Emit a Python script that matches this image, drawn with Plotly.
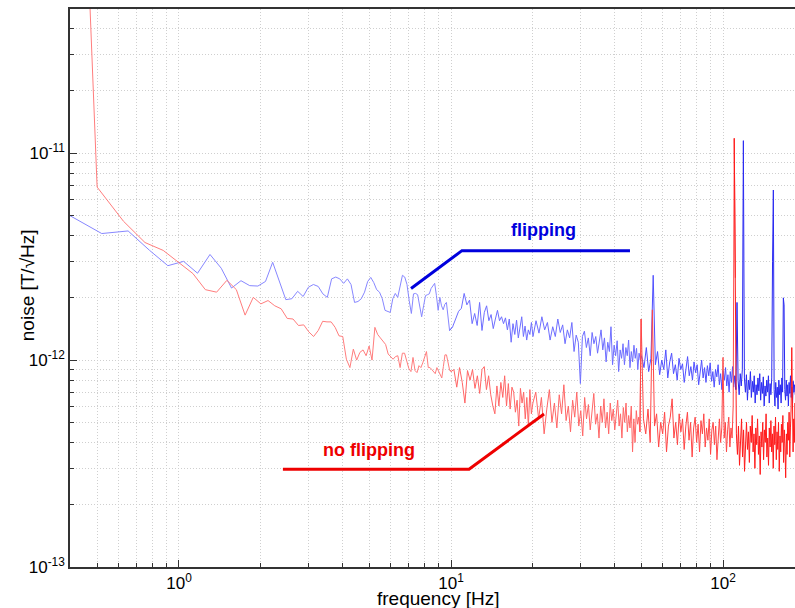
import numpy as np
import plotly.graph_objects as go

# ---------------- data (amplitude spectral density, units of 1e-12 T/sqrt(Hz)) ----------------
UNIT = 1e-12
RED_DF = 0.125   # frequency resolution of the "no flipping" spectrum [Hz]
BLUE_DF = 0.13   # frequency resolution of the "flipping" spectrum [Hz]

# "flipping" (blue) spectrum, split in segments: (first bin, bin step, values)
blue_low = [5.06, 4.09, 4.21, 3.39, 2.86, 3.00, 2.63, 3.24, 2.78, 2.23, 2.42, 2.29, 2.28, 2.40, 2.97,
            2.41, 1.96, 1.98, 2.15, 2.03, 2.25, 2.32, 2.27, 2.09, 2.01, 2.47, 2.52, 2.47, 2.35, 2.47,
            2.32, 1.90, 1.92, 1.98, 2.13, 2.40, 2.51, 2.37, 2.19, 2.13, 1.98, 1.74, 1.72, 1.70, 1.98,
            2.10, 2.01, 2.30, 2.57, 2.52, 2.32, 1.94, 1.68, 2.09, 2.10, 2.07, 1.81, 1.62, 1.83, 2.05,
            2.07, 2.09, 2.22, 2.30, 2.35, 2.05, 1.74, 2.01, 1.83, 1.75, 1.86, 1.90, 1.55, 1.39]
blue_b = [1.45, 1.58, 1.72, 1.78, 2.10, 1.85, 1.95, 1.50, 1.68, 1.47, 1.90, 1.39, 1.70, 1.83, 1.55,
          1.66, 1.42, 1.58, 1.74, 1.55, 1.62, 1.50, 1.60, 1.40, 1.58, 1.22, 1.50, 1.33, 1.56, 1.28,
          1.48, 1.62, 1.30, 1.46, 1.25, 1.40, 1.33, 1.52, 1.30]
blue_c = [1.55, 1.35, 1.62, 1.40, 1.52, 1.25, 1.45, 1.30, 1.58, 1.36, 1.48, 1.20, 1.40, 1.28, 1.52,
          1.10, 1.32, 1.22, 0.77, 1.30, 1.38, 1.15, 1.28, 1.05, 1.36, 1.20, 1.30, 1.08, 1.25, 1.40,
          1.12, 1.28, 0.98, 1.22, 1.10, 1.45, 0.95, 1.18, 1.05, 1.24, 0.88, 1.12, 1.02, 1.20, 0.95,
          1.15, 1.05, 1.25, 0.92, 1.10, 0.98, 1.18, 1.02, 1.14, 0.90, 1.08, 1.00]
blue_d = [1.05, 0.92, 1.15, 0.88, 1.02, 2.57, 0.95, 1.10, 0.85, 1.00, 0.90, 1.12, 0.82, 0.98, 1.08,
          0.86, 0.95, 0.80, 1.02, 0.90, 0.96, 0.78, 0.92, 1.04, 0.84, 0.93, 0.80, 0.98, 0.87, 0.95,
          0.76, 0.90, 1.00, 0.82, 0.92, 0.78, 0.94, 0.84, 0.97, 0.79, 0.88, 0.74, 0.90, 0.83, 0.95,
          0.76, 0.86, 0.72, 0.89, 0.80, 0.92, 0.75, 0.85, 0.70, 0.88, 0.78, 0.93, 0.74, 0.84, 0.72,
          1.90, 0.80, 0.68, 0.86, 0.75, 0.90, 11.5, 0.82, 0.70, 0.85, 0.64, 0.80, 0.72, 0.88, 0.66,
          0.79, 0.70, 0.84, 0.62, 0.76, 0.68, 0.82, 0.71, 0.86, 0.64, 0.78, 0.69, 0.83, 0.60, 0.75,
          0.67, 0.80, 0.70, 0.84, 0.62, 0.77, 0.68, 0.82, 3.00, 6.64, 0.72, 0.60, 0.78, 0.66, 0.74,
          0.58, 0.80, 0.68, 0.76, 0.62, 0.82, 0.70, 2.00, 1.85, 0.72, 0.64, 0.80, 0.67, 0.76, 0.60,
          0.78, 0.69, 0.84, 0.66, 0.74, 0.62, 0.79, 0.70, 0.76, 0.68]
BLUE_SEGMENTS = [(3, 1, blue_low), (78, 2, blue_b), (158, 4, blue_c), (386, 8, blue_d)]

# "no flipping" (red) spectrum
red_low = [100000, 6.86, 4.69, 3.70, 3.39, 2.97, 2.62, 2.19, 2.13, 2.43, 2.19, 1.65, 2.01, 1.87, 1.94,
           1.83, 1.77, 1.59, 1.58, 1.47, 1.48, 1.37, 1.30, 1.39, 1.54, 1.53, 1.53, 1.44, 1.31, 1.30,
           1.01, 0.92, 1.13, 1.00, 1.09, 1.12, 1.05, 1.17, 1.00, 1.44, 1.33, 1.28, 1.23, 1.19, 1.07,
           1.04, 1.01, 1.04, 1.05, 0.92, 1.08, 1.08, 0.99, 0.91, 0.88, 1.03, 0.89, 0.87, 0.94, 0.92,
           0.97, 1.05, 1.10, 0.92, 0.92, 0.90, 0.88, 0.86, 0.92, 0.89, 0.85, 0.82, 0.93, 1.06, 1.06,
           0.97, 0.90, 0.88]
red_b = [0.90, 0.74, 0.92, 0.78, 0.62, 0.89, 0.80, 0.90, 0.73, 0.84, 0.69, 0.90, 0.93, 0.72, 0.84,
         0.68, 0.60, 0.55, 0.75, 0.60, 0.78, 0.66, 0.84, 0.60, 0.77, 0.58, 0.74, 0.70, 0.56, 0.64,
         0.48, 0.73, 0.62, 0.70, 0.52, 0.66, 0.48, 0.72, 0.55, 0.62]
red_c = [0.70, 0.52, 0.66, 0.44, 0.58, 0.72, 0.50, 0.62, 0.47, 0.68, 0.55, 0.76, 0.51, 0.60, 0.45,
         0.64, 0.53, 0.70, 0.48, 0.57, 0.43, 0.66, 0.52, 0.61, 0.46, 0.58, 0.69, 0.49, 0.55, 0.42,
         0.60, 0.50, 0.65, 0.47, 0.56, 0.44, 0.62, 0.51, 0.58, 0.46, 0.53, 0.64, 0.48, 0.55, 0.42,
         0.59, 0.50, 0.62, 0.45, 0.54, 0.47, 0.60, 0.36, 0.52, 0.40, 0.57, 0.49, 0.53, 0.45, 1.58]
red_d = [0.52, 0.44, 0.58, 0.40, 1.75, 0.48, 0.55, 0.38, 0.50, 0.44, 0.56, 0.36, 0.48, 0.53, 0.65,
         0.42, 0.50, 0.39, 0.55, 0.45, 0.52, 0.37, 0.48, 0.56, 0.41, 0.50, 0.34, 0.47, 0.53, 0.40,
         0.49, 0.36, 0.51, 0.44, 0.55, 0.38, 0.47, 0.41, 0.52, 0.35, 0.46, 0.50, 0.39, 0.48, 0.33,
         0.45, 0.52, 0.40, 0.47, 1.03, 0.42, 0.50, 0.36, 0.46, 0.53, 0.38, 0.47, 0.42, 0.60, 11.8,
         2.50, 0.44, 0.35, 0.48, 0.31, 0.44, 0.52, 0.34, 0.46, 0.29, 0.42, 0.50, 0.37, 0.45, 0.32,
         0.48, 0.40, 0.54, 0.36, 0.44, 0.30, 0.47, 0.39, 0.52, 0.35, 0.43, 0.28, 0.45, 0.38, 0.50,
         0.33, 0.46, 0.40, 0.55, 0.34, 0.42, 0.31, 0.47, 0.38, 0.51, 0.36, 0.44, 0.30, 0.48, 0.39,
         0.53, 0.33, 0.45, 0.37, 0.50, 0.29, 0.43, 0.36, 0.49, 0.40, 0.54, 0.32, 0.46, 0.38, 0.27,
         0.44, 0.35, 0.50, 0.41, 0.56, 0.34, 0.47, 0.58, 1.15, 0.45, 0.36, 0.52, 0.40, 0.62, 0.48]
RED_SEGMENTS = [(3, 1, red_low), (82, 2, red_b), (164, 4, red_c), (408, 8, red_d)]

# axis ticks
X_MAJOR = [1, 10, 100]
X_MAJOR_TEXT = ["10<sup>0</sup>", "10<sup>1</sup>", "10<sup>2</sup>"]
Y_MAJOR = [1e-13, 1e-12, 1e-11]
Y_MAJOR_TEXT = ["10<sup>-13</sup>", "10<sup>-12</sup>", "10<sup>-11</sup>"]

# callout annotations (frequency [Hz], noise [T/sqrt(Hz)])
FLIP_LABEL = ("flipping", 21.8, 4.24e-12)
FLIP_LINE_F = [7.13, 10.97, 45.5]
FLIP_LINE_N = [2.22e-12, 3.38e-12, 3.38e-12]
NOFLIP_LABEL = ("no flipping", 5.0, 3.67e-13)
NOFLIP_LINE_F = [2.41, 11.65, 21.98]
NOFLIP_LINE_N = [2.97e-13, 2.97e-13, 5.49e-13]


def build(segments, df):
    f, v = [], []
    for start, step, vals in segments:
        bins = start + step * np.arange(len(vals))
        f.append(bins * df)
        v.append(np.asarray(vals, dtype=float) * UNIT)
    return np.concatenate(f), np.concatenate(v)


fb, vb = build(BLUE_SEGMENTS, BLUE_DF)
fr, vr = build(RED_SEGMENTS, RED_DF)

# denser line regions appear more saturated in the original; emulate with band colours
BLUE_BANDS = [(0, 10, "#8787ff"), (10, 50, "#6e6eff"), (50, 111, "#5050ff"), (111, 1e4, "#2a2af2")]
RED_BANDS = [(0, 10, "#ff7d7d"), (10, 50, "#ff6666"), (50, 111, "#ff4646"), (111, 1e4, "#ff1a1a")]

fig = go.Figure()


def add_banded(f, v, bands):
    for lo, hi, col in bands:
        idx = np.where((f >= lo) & (f < hi))[0]
        if len(idx) == 0:
            continue
        i0 = max(idx[0] - 1, 0)
        i1 = min(idx[-1] + 1, len(f) - 1)
        fig.add_trace(go.Scatter(x=f[i0:i1 + 1], y=v[i0:i1 + 1], mode="lines",
                                 line=dict(color=col, width=1), hoverinfo="skip",
                                 showlegend=False))


add_banded(fb, vb, BLUE_BANDS)
add_banded(fr, vr, RED_BANDS)

BLUE_TXT = "#0000dd"
RED_TXT = "#ee0000"
fig.add_trace(go.Scatter(x=FLIP_LINE_F, y=FLIP_LINE_N, mode="lines",
                         line=dict(color=BLUE_TXT, width=3), showlegend=False, hoverinfo="skip"))
fig.add_trace(go.Scatter(x=NOFLIP_LINE_F, y=NOFLIP_LINE_N, mode="lines",
                         line=dict(color=RED_TXT, width=3), showlegend=False, hoverinfo="skip"))

FONT = "Liberation Sans, Arial, Helvetica, sans-serif"

for (txt, fx, ny), col in [(FLIP_LABEL, BLUE_TXT), (NOFLIP_LABEL, RED_TXT)]:
    fig.add_annotation(x=np.log10(fx), y=np.log10(ny), xref="x", yref="y", text=f"<b>{txt}</b>",
                       showarrow=False, font=dict(family=FONT, size=18, color=col))

# axis titles
fig.add_annotation(x=0.5076, y=-0.056, xref="paper", yref="paper", text="frequency [Hz]",
                   showarrow=False, xanchor="center", yanchor="middle",
                   font=dict(family=FONT, size=19, color="black"))
fig.add_annotation(x=-0.0593, y=0.505, xref="paper", yref="paper", text="noise [T/√Hz]",
                   showarrow=False, textangle=-90, xanchor="center", yanchor="middle",
                   font=dict(family=FONT, size=19, color="black"))

x_minor = [m * 10 ** e for e in (-1, 0, 1, 2) for m in range(2, 10)]
y_minor = [m * 10 ** e for e in (-13, -12, -11) for m in range(2, 10)]

GRID = "#cfcfcf"
DASH = "1px,2px"
AX = "#333333"
fig.update_xaxes(type="log", range=[-0.4007, 2.2647], tickmode="array", tickvals=X_MAJOR,
                 ticktext=X_MAJOR_TEXT, ticks="inside", ticklen=7, tickcolor=AX,
                 showline=True, linecolor=AX, linewidth=1.5, mirror=True,
                 showgrid=True, gridcolor=GRID, griddash=DASH, gridwidth=1, zeroline=False,
                 tickfont=dict(family=FONT, size=17, color="black"),
                 minor=dict(tickmode="array", tickvals=x_minor, ticks="inside", ticklen=4,
                            tickcolor=AX, showgrid=True, gridcolor=GRID, griddash=DASH))
fig.update_yaxes(type="log", range=[-13, -10.303], tickmode="array", tickvals=Y_MAJOR,
                 ticktext=Y_MAJOR_TEXT, ticks="inside", ticklen=7, tickcolor=AX,
                 showline=True, linecolor=AX, linewidth=1.5, mirror=False,
                 showgrid=True, gridcolor=GRID, griddash=DASH, gridwidth=1, zeroline=False,
                 tickfont=dict(family=FONT, size=17, color="black"),
                 minor=dict(tickmode="array", tickvals=y_minor, ticks="inside", ticklen=4,
                            tickcolor=AX, showgrid=True, gridcolor=GRID, griddash=DASH))

fig.update_layout(width=795, height=608, margin=dict(l=70, r=0, t=9, b=41),
                  paper_bgcolor="white", plot_bgcolor="white", showlegend=False,
                  font=dict(family=FONT))

fig.write_html("out.html")
